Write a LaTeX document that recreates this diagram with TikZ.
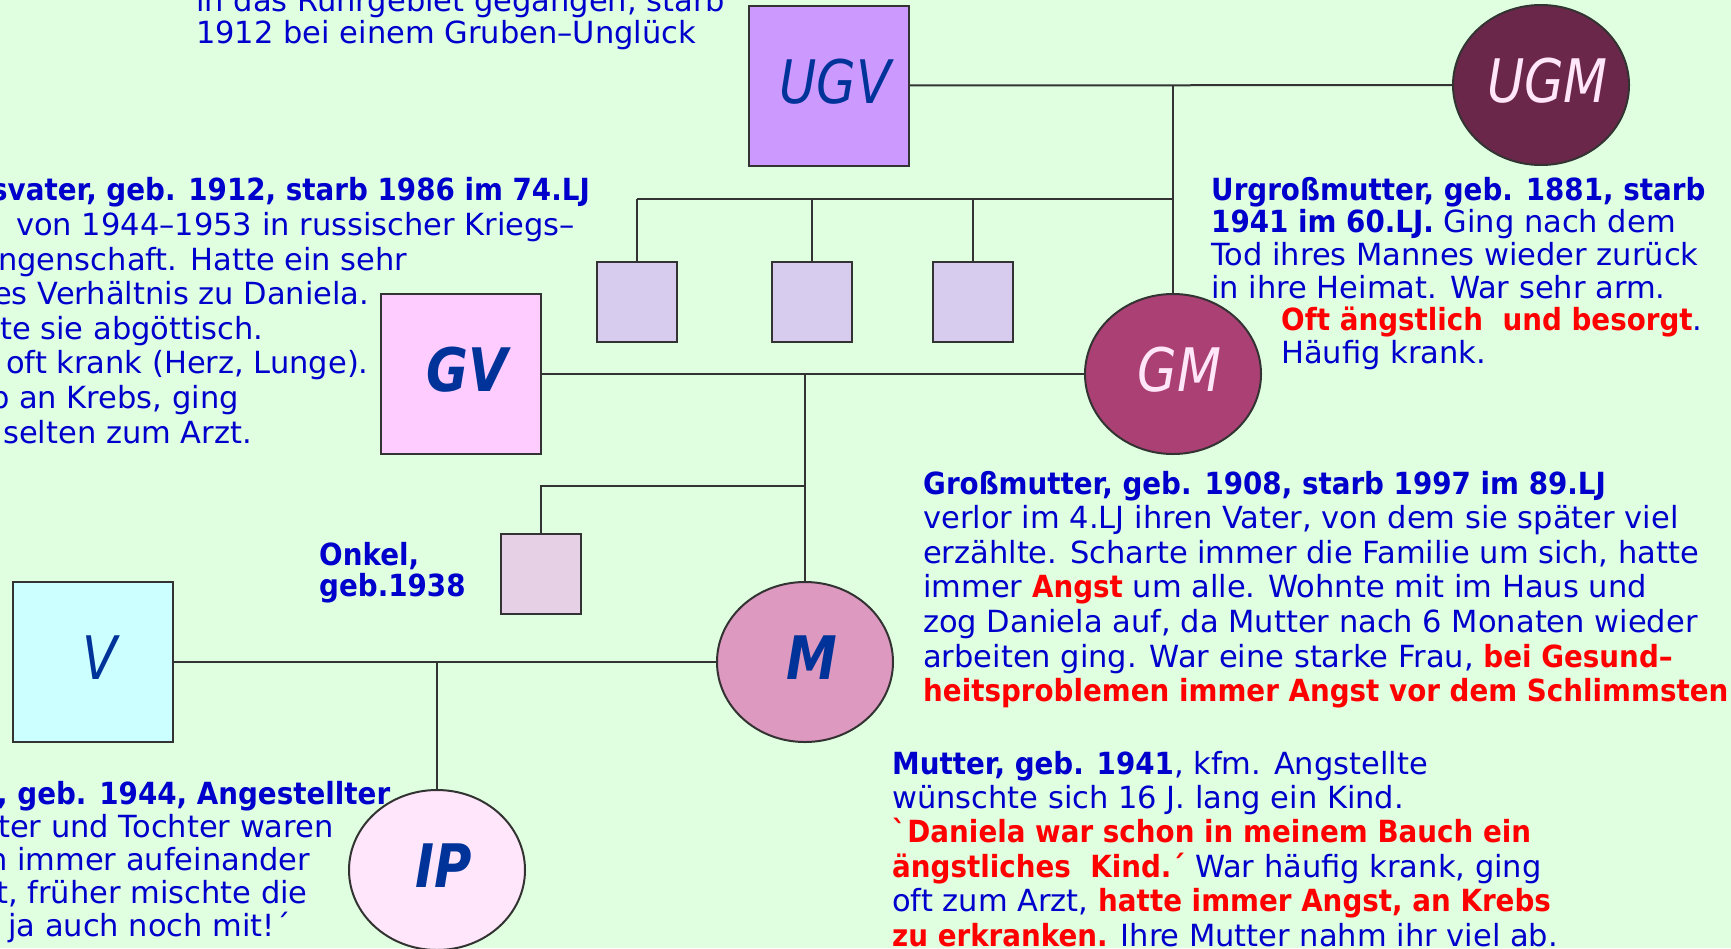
\documentclass[tikz,border=0pt]{standalone}
\usepackage{fontspec}
\setmainfont{DejaVu Sans}[BoldFeatures={FakeStretch=0.91}]
\newfontfamily\namefont{DejaVu Sans}[FakeStretch=0.85]
\usetikzlibrary{positioning, shapes.geometric}
\definecolor{bgcol}{RGB}{224,255,224}
\definecolor{txtblue}{RGB}{0,0,204}
\definecolor{txtred}{RGB}{255,0,0}
\definecolor{namblue}{RGB}{0,51,153}
\definecolor{namrose}{RGB}{255,230,248}
\definecolor{linecol}{RGB}{51,51,51}
\definecolor{ugvfill}{RGB}{204,153,255}
\definecolor{ugmfill}{RGB}{107,39,73}
\definecolor{kidfill}{RGB}{216,204,238}
\definecolor{gvfill}{RGB}{255,204,255}
\definecolor{gmfill}{RGB}{170,64,115}
\definecolor{onkelfill}{RGB}{230,208,230}
\definecolor{vfill}{RGB}{204,255,255}
\definecolor{mfill}{RGB}{221,153,191}
\definecolor{ipfill}{RGB}{255,230,250}
\newcommand{\rd}[1]{\textcolor{txtred}{\textbf{#1}}}

\begin{document}
\begin{tikzpicture}[x=1pt, y=-1pt,
    male/.style={rectangle, draw=linecol, line width=2pt, minimum width=160, minimum height=160, inner sep=0pt},
    female/.style={ellipse, draw=linecol, line width=2pt, minimum width=176, minimum height=160, inner sep=0pt, inner xsep=-20pt},
    kid/.style={rectangle, draw=linecol, line width=2pt, minimum size=80, inner sep=0pt},
    namelbl/.style={font=\namefont\fontsize{60}{60}\selectfont\itshape, text depth=9pt, execute at begin node=\hspace*{13pt}},
    boldlbl/.style={namelbl, font=\namefont\fontsize{60}{60}\selectfont\bfseries\itshape},
    note/.style={text=txtblue, align=left, anchor=base west, inner sep=0pt, font=\fontsize{30.5}{34.6}\selectfont},
    link/.style={draw=linecol, line width=2pt}]
  \fill[bgcol] (0,0) rectangle (1731,948);
  \useasboundingbox (0,0) rectangle (1731,948);
  \clip (0,0) rectangle (1731,948);

  % generations
  \node[male, fill=ugvfill, namelbl, text=namblue] (ugv) at (828.5,85.5) {UGV};
  \node[female, fill=ugmfill, namelbl, text=namrose] (ugm) at (1541,85) {UGM};
  \node[male, fill=gvfill, boldlbl, text=namblue] (gv) at (461,374) {GV};
  \node[female, fill=gmfill, namelbl, text=namrose] (gm) at (1173,374) {GM};
  \node[male, fill=vfill, namelbl, text=namblue] (v) at (93,662) {V};
  \node[female, fill=mfill, boldlbl, text=namblue] (m) at (805,662) {M};
  \node[female, fill=ipfill, boldlbl, text=namblue] (ip) at (437,870) {IP};
  \foreach \k/\x in {k1/636.5, k2/812, k3/972.5}
    \node[kid, fill=kidfill] (\k) at (\x,302) {};
  \node[kid, fill=onkelfill] (onkel) at (541,574) {};

  % connectors
  \draw[link] (ugv) -- (ugm);
  \coordinate (ugj) at (ugv -| gm);
  \draw[link] (ugj) -- (gm);
  \coordinate (kbar) at (1173,199);
  \draw[link] (kbar) -- (kbar -| k1);
  \foreach \k in {k1,k2,k3}
    \draw[link] (kbar -| \k) -- (\k);
  \draw[link] (gv) -- (gm);
  \coordinate (gj) at (gv -| m);
  \draw[link] (gj) -- (m);
  \coordinate (obar) at (805,486);
  \draw[link] (obar) -- (obar -| onkel) -- (onkel);
  \draw[link] (v) -- (m);
  \coordinate (vj) at (v -| ip);
  \draw[link] (vj) -- (ip);

  % notes (placed at the baseline of their last line)
  \node[note, font=\fontsize{30.5}{32}\selectfont] (ugvtxt) at (196,43)
    {in das Ruhrgebiet gegangen, starb\\1912 bei einem Gruben–Unglück};
  \node[note, font=\fontsize{30.5}{32.7}\selectfont] (ugmtxt) at (1211,363.5)
    {\textbf{Urgroßmutter, geb. 1881, starb}\\
     \textbf{1941 im 60.LJ.} Ging nach dem\\
     Tod ihres Mannes wieder zurück\\
     in ihre Heimat. War sehr arm.\\
     \hspace*{70pt}\rd{Oft ängstlich\ \ und besorgt}.\\
     \hspace*{70pt}Häufig krank.};
  \node[note] (gvtxt) at (-10,443)
    {\hspace*{1pt}\textbf{svater, geb. 1912, starb 1986 im 74.LJ}\\
     \hspace*{26pt}von 1944–1953 in russischer Kriegs–\\
     \hspace*{8pt}ngenschaft. Hatte ein sehr\\
     \hspace*{3pt}es Verhältnis zu Daniela.\\
     \hspace*{10pt}te sie abgöttisch.\\
     \hspace*{16pt}oft krank (Herz, Lunge).\\
     b an Krebs, ging\\
     \hspace*{13pt}selten zum Arzt.};
  \node[note] (gmtxt) at (923,701.6)
    {\textbf{Großmutter, geb. 1908, starb 1997 im 89.LJ}\\
     verlor im 4.LJ ihren Vater, von dem sie später viel\\
     erzählte. Scharte immer die Familie um sich, hatte\\
     immer \rd{Angst} um alle. Wohnte mit im Haus und\\
     zog Daniela auf, da Mutter nach 6 Monaten wieder\\
     arbeiten ging. War eine starke Frau, \rd{bei Gesund–}\\
     \rd{heitsproblemen immer Angst vor dem Schlimmsten}};
  \node[note, font=\fontsize{30.5}{31}\selectfont\bfseries] (onkeltxt) at (319,596)
    {Onkel,\\geb.1938};
  \node[note, font=\fontsize{30.5}{32.8}\selectfont] (vtxt) at (-12,936)
    {\hspace*{9pt}\textbf{, geb. 1944, Angestellter}\\
     \hspace*{10pt}ter und Tochter waren\\
     n immer aufeinander\\
     \hspace*{8pt}t, früher mischte die\\
     \hspace*{20pt}ja auch noch mit!´};
  \node[note, font=\fontsize{30.5}{34.4}\selectfont] (mtxt) at (892,946)
    {\textbf{Mutter, geb. 1941}, kfm. Angstellte\\
     wünschte sich 16 J. lang ein Kind.\\
     \rd{\textasciigrave Daniela war schon in meinem Bauch ein}\\
     \rd{ängstliches\ \ Kind.´} War häufig krank, ging\\
     oft zum Arzt, \rd{hatte immer Angst, an Krebs}\\
     \rd{zu erkranken.} Ihre Mutter nahm ihr viel ab.};
\end{tikzpicture}
\end{document}
